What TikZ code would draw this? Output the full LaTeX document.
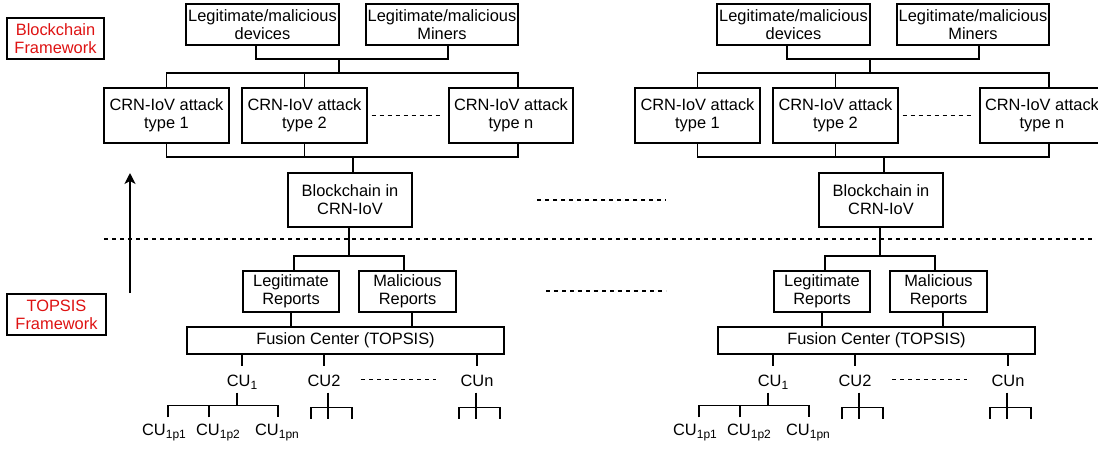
\documentclass[tikz,border=0pt]{standalone}
\usepackage{fontspec}
\setmainfont{Liberation Sans}
\usetikzlibrary{arrows.meta}

\definecolor{fwred}{RGB}{222,18,18}
\newcommand{\cusub}[1]{\raisebox{-3.5pt}{\fontsize{12}{12}\selectfont #1}}

\tikzset{
  wire/.style={line width=1.2pt},
  box/.style={draw, line width=1.2pt, align=center, inner sep=0pt,
    font=\fontsize{16.4}{18}\selectfont},
  cubox/.style={inner sep=0pt, text height=19pt, text depth=6pt,
    font=\fontsize{16.4}{18}\selectfont},
  subbox/.style={inner sep=0pt, text height=17pt, text depth=6pt,
    font=\fontsize{16.4}{18}\selectfont},
  dots/.style={line width=1.2pt, dash pattern=on 4pt off 4pt}
}

\begin{document}
\begin{tikzpicture}[x=1pt, y=-1pt, wire]
    \useasboundingbox (0,0) rectangle (1098,451);
    \clip (0,0) rectangle (1098,451);

    % Framework labels on the left
    \node[box, text=fwred, minimum width=97pt, minimum height=41pt] (bcfw) at (55.5,38.5) {Blockchain\\Framework};
    \node[box, text=fwred, minimum width=99pt, minimum height=41pt] (tpfw) at (56.5,314.5) {TOPSIS\\Framework};

    % Upward arrow
    \coordinate (arrlow) at (130,293);
    \coordinate (arrtop) at (130,173);
    \draw[-{Stealth[length=11pt, width=11pt, inset=3pt]}] (arrlow) -- (arrtop);

    % Separator between the two frameworks
    \coordinate (sepl) at (104,239);
    \coordinate (sepr) at (1095,239);
    \draw[dots] (sepl) -- (sepr);

    % Dashes between the two copies
    \coordinate (midal) at (537,200);
    \coordinate (midar) at (666,200);
    \coordinate (midbl) at (546,291);
    \coordinate (midbr) at (666,291);
    \draw[dots] (midal) -- (midar);
    \draw[dots] (midbl) -- (midbr);

    % Two copies of the tree
    \foreach \s/\p in {0/L,531/R}{
    \begin{scope}[xshift=\s pt]
        % Boxes
        \node[box, minimum width=153pt, minimum height=41pt] (\p-dev) at (262.5,24.5) {Legitimate/malicious\\devices};
        \node[box, minimum width=152pt, minimum height=41pt] (\p-min) at (442,24.5) {Legitimate/malicious\\Miners};
        \node[box, minimum width=125pt, minimum height=55pt] (\p-at1) at (166.5,115.5) {CRN-IoV attack\\type 1};
        \node[box, minimum width=125pt, minimum height=55pt] (\p-at2) at (304.5,115.5) {CRN-IoV attack\\type 2};
        \node[box, minimum width=124pt, minimum height=55pt] (\p-atn) at (511,115.5) {CRN-IoV attack\\type n};
        \node[box, minimum width=124pt, minimum height=54pt] (\p-bc) at (350,200) {Blockchain in\\CRN-IoV};
        \node[box, minimum width=96pt, minimum height=41pt] (\p-leg) at (291,291.5) {Legitimate\\Reports};
        \node[box, minimum width=97pt, minimum height=41pt] (\p-mal) at (407.5,291.5) {Malicious\\Reports};
        \node[box, minimum width=317pt, minimum height=27pt] (\p-fc) at (345.5,340.5) {Fusion Center (TOPSIS)};

        % Cooperative users
        \node[cubox] (\p-cu1) at (242,379.5) {CU\cusub{1}};
        \node[cubox] (\p-cu2) at (324,379.5) {CU2};
        \node[cubox] (\p-cun) at (477,379.5) {CUn};
        \node[subbox] (\p-s1) at (164,429.5) {CU\cusub{1p1}};
        \node[subbox] (\p-s2) at (218,429.5) {CU\cusub{1p2}};
        \node[subbox] (\p-s3) at (277,429.5) {CU\cusub{1pn}};

        % Devices and miners to the attack types
        \coordinate (\p-j1) at (339,59);
        \coordinate (\p-j2) at (339,73);
        \coordinate (\p-atnt) at ([xshift=7pt]\p-atn.north);
        \draw ([xshift=-6.5pt]\p-dev.south) |- (\p-j1) -| ([xshift=6pt]\p-min.south);
        \draw (\p-j1) -- (\p-j2);
        \draw (\p-at1.north) |- (\p-atnt |- \p-j2) -- (\p-atnt);
        \draw (\p-at2.north) -- (\p-at2.north |- \p-j2);
        \draw[dots] ([xshift=4pt]\p-at2.east) -- ([xshift=-7pt]\p-atn.west);

        % Attack types to the blockchain
        \coordinate (\p-j3) at (353,157);
        \coordinate (\p-atnb) at ([xshift=7pt]\p-atn.south);
        \draw (\p-at1.south) |- (\p-atnb |- \p-j3) -- (\p-atnb);
        \draw (\p-at2.south) -- (\p-at2.south |- \p-j3);
        \draw (\p-j3) -- (\p-j3 |- \p-bc.north);

        % Blockchain to the reports
        \coordinate (\p-j4) at (349,256);
        \draw (\p-j4 |- \p-bc.south) -- (\p-j4);
        \draw ([xshift=3pt]\p-leg.north) |- (\p-j4) -| ([xshift=-3.5pt]\p-mal.north);

        % Reports to the fusion center
        \coordinate (\p-malb) at ([xshift=4.5pt]\p-mal.south);
        \draw (\p-leg.south) -- (\p-leg.south |- \p-fc.north);
        \draw (\p-malb) -- (\p-malb |- \p-fc.north);

        % Fusion center to the users
        \draw (\p-cu1.north |- \p-fc.south) -- (\p-cu1.north);
        \draw (\p-cu2.north |- \p-fc.south) -- (\p-cu2.north);
        \draw (\p-cun.north |- \p-fc.south) -- (\p-cun.north);
        \draw[dots] ([xshift=20pt]\p-cu2.east) -- ([xshift=-24pt]\p-cun.west);

        % Users of CU1
        \coordinate (\p-c1) at ([xshift=-5pt]\p-cu1.south);
        \coordinate (\p-b1) at ([yshift=-13pt]\p-c1);
        \coordinate (\p-t1) at ([xshift=4pt]\p-s1.north);
        \coordinate (\p-t2) at ([xshift=-9pt]\p-s2.north);
        \coordinate (\p-t3) at ([xshift=1pt]\p-s3.north);
        \draw (\p-c1) -- (\p-b1);
        \draw (\p-t1) |- (\p-b1) -| (\p-t3);
        \draw (\p-t2) -- (\p-t2 |- \p-b1);

        % Open forks below CU2 and CUn
        \coordinate (\p-f2) at ([xshift=4pt]\p-cu2.south);
        \coordinate (\p-fn) at ([xshift=-1pt]\p-cun.south);
        \draw (\p-f2) -- ++(0,26);
        \draw (\p-f2) ++(-17,26) |- ++(41,-11) -- ++(0,11);
        \draw (\p-fn) -- ++(0,26);
        \draw (\p-fn) ++(-17,26) |- ++(41,-11) -- ++(0,11);
    \end{scope}
    }

\end{tikzpicture}
\end{document}
